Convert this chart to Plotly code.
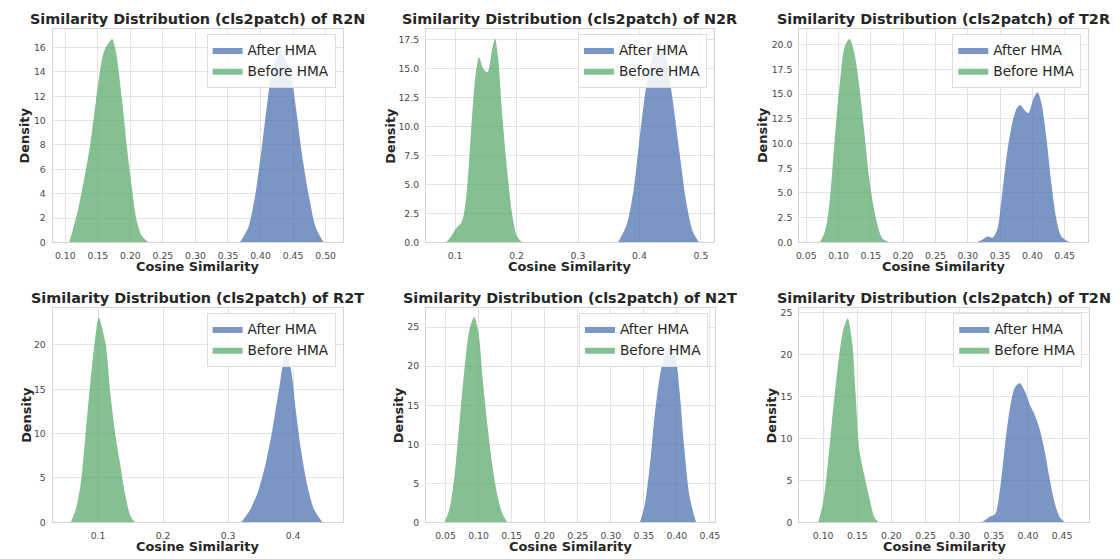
import plotly.graph_objects as go

W, H = 1120, 559

# ---------------- data ----------------
pair_names = ["R2N", "N2R", "T2R", "R2T", "N2T", "T2N"]

r2n_after_x = [0.368, 0.381, 0.391, 0.401, 0.411, 0.419, 0.431, 0.444, 0.454, 0.464, 0.475, 0.485, 0.497]
r2n_after_y = [0.0, 1.2, 3.6, 7.4, 11.7, 14.4, 15.5, 14.4, 11.2, 7.1, 3.6, 1.2, 0.0]
r2n_before_x = [0.106, 0.111, 0.121, 0.137, 0.147, 0.157, 0.162, 0.167, 0.172, 0.178, 0.187, 0.195, 0.203, 0.210, 0.218, 0.228]
r2n_before_y = [0.0, 0.9, 3.0, 7.6, 11.6, 15.2, 16.0, 16.4, 16.7, 15.6, 11.8, 7.7, 4.2, 1.7, 0.5, 0.0]

n2r_after_x = [0.365, 0.379, 0.390, 0.400, 0.411, 0.422, 0.432, 0.443, 0.454, 0.465, 0.476, 0.487, 0.497]
n2r_after_y = [0.0, 1.5, 4.4, 8.9, 13.5, 16.3, 17.3, 16.0, 12.3, 7.8, 3.5, 0.9, 0.0]
n2r_before_x = [0.0855, 0.0935, 0.1016, 0.111, 0.118, 0.126, 0.133, 0.139, 0.146, 0.153, 0.160, 0.165, 0.170, 0.177, 0.185, 0.193, 0.201, 0.209]
n2r_before_y = [0.0, 0.5, 1.2, 1.8, 3.8, 9.5, 14.3, 16.0, 15.0, 14.7, 16.6, 17.6, 16.0, 10.9, 6.1, 2.4, 0.5, 0.0]

t2r_after_x = [0.313, 0.323, 0.3306, 0.339, 0.346, 0.353, 0.361, 0.369, 0.376, 0.381, 0.389, 0.394, 0.402, 0.408, 0.414, 0.422, 0.4297, 0.437, 0.445, 0.458]
t2r_after_y = [0.0, 0.3, 0.6, 0.5, 1.4, 4.8, 9.1, 12.1, 13.6, 13.9, 13.3, 13.1, 14.6, 15.2, 14.1, 10.4, 5.8, 2.4, 0.6, 0.0]
t2r_before_x = [0.071, 0.079, 0.0866, 0.094, 0.102, 0.1095, 0.117, 0.1247, 0.132, 0.140, 0.1476, 0.158, 0.168, 0.181]
t2r_before_y = [0.0, 1.1, 4.4, 10.4, 16.1, 19.8, 20.6, 19.1, 15.8, 11.1, 6.4, 2.4, 0.4, 0.0]

r2t_after_x = [0.320, 0.333, 0.3456, 0.358, 0.368, 0.379, 0.389, 0.397, 0.404, 0.412, 0.422, 0.432, 0.445]
r2t_after_y = [0.0, 1.3, 3.4, 6.7, 10.4, 15.3, 19.2, 17.1, 12.7, 8.2, 4.1, 1.5, 0.0]
r2t_before_x = [0.058, 0.066, 0.0736, 0.081, 0.089, 0.0964, 0.101, 0.1117, 0.119, 0.127, 0.1346, 0.142, 0.150, 0.157]
r2t_before_y = [0.0, 1.5, 4.5, 10.1, 16.4, 21.2, 23.1, 20.1, 14.5, 9.7, 6.3, 3.0, 0.7, 0.0]

n2t_after_x = [0.344, 0.351, 0.359, 0.3663, 0.374, 0.381, 0.390, 0.397, 0.404, 0.411, 0.419, 0.429]
n2t_after_y = [0.0, 2.1, 7.2, 13.6, 18.6, 21.2, 22.5, 21.6, 16.9, 9.7, 3.4, 0.0]
n2t_before_x = [0.0485, 0.056, 0.0635, 0.071, 0.0785, 0.086, 0.0935, 0.100, 0.106, 0.1136, 0.121, 0.1286, 0.136, 0.1436]
n2t_before_y = [0.0, 1.7, 5.9, 12.7, 19.5, 24.6, 26.3, 24.2, 18.6, 12.3, 7.2, 3.4, 1.1, 0.0]

t2n_after_x = [0.3327, 0.3448, 0.352, 0.359, 0.3666, 0.374, 0.381, 0.388, 0.3957, 0.403, 0.410, 0.4175, 0.425, 0.432, 0.439, 0.4466, 0.454]
t2n_after_y = [0.0, 0.7, 1.0, 3.9, 9.4, 13.8, 16.1, 16.6, 15.6, 14.0, 12.8, 11.0, 8.3, 5.1, 2.4, 0.6, 0.0]
t2n_before_x = [0.0927, 0.100, 0.107, 0.1145, 0.122, 0.129, 0.136, 0.1427, 0.1475, 0.153, 0.1606, 0.168, 0.175, 0.181]
t2n_before_y = [0.0, 2.4, 7.1, 13.4, 18.9, 22.8, 24.3, 21.3, 15.4, 8.7, 5.5, 2.8, 0.6, 0.0]

series_after = [(r2n_after_x, r2n_after_y), (n2r_after_x, n2r_after_y), (t2r_after_x, t2r_after_y),
                (r2t_after_x, r2t_after_y), (n2t_after_x, n2t_after_y), (t2n_after_x, t2n_after_y)]
series_before = [(r2n_before_x, r2n_before_y), (n2r_before_x, n2r_before_y), (t2r_before_x, t2r_before_y),
                 (r2t_before_x, r2t_before_y), (n2t_before_x, n2t_before_y), (t2n_before_x, t2n_before_y)]

x_ranges = [[0.0806, 0.526], [0.0527, 0.521], [0.0392, 0.4864], [0.0302, 0.476], [0.0204, 0.4575], [0.065, 0.4897]]
y_ranges = [[0, 17.55], [0, 18.47], [0, 21.63], [0, 24.2], [0, 27.5], [0, 25.6]]
x_dticks = [0.05, 0.1, 0.05, 0.1, 0.05, 0.05]
x_formats = [".2f", ".1f", ".2f", ".1f", ".2f", ".2f"]
y_dticks = [2, 2.5, 2.5, 5, 5, 5]
y_formats = ["d", ".1f", ".1f", "d", "d", "d"]

# ---------------- layout geometry (pixels) ----------------
boxes = [  # left, right, top, bottom
    (50, 342, 28, 244), (426, 716, 28, 244), (802, 1093, 28, 244),
    (50, 342, 310, 527), (426, 717, 310, 527), (802, 1094, 310, 527),
]
ytitle_off = [28, 36, 37, 27, 28, 28]
xtitle_off = [24.5, 24.5, 24.5, 24, 24, 24]

BLUE = "rgba(76,114,176,0.74)"
GREEN = "rgba(85,168,104,0.72)"
FONT = "DejaVu Sans"

fig = go.Figure()
annotations = []
layout = {}
for i, name in enumerate(pair_names):
    n = i + 1
    sfx = "" if n == 1 else str(n)
    xa, ya = "x" + sfx, "y" + sfx
    lg = "legend" + sfx
    l, r, t, b = boxes[i]
    ax, ay = series_after[i]
    bx, by = series_before[i]
    fig.add_trace(go.Scatter(x=ax, y=ay, xaxis=xa, yaxis=ya, mode="lines", fill="tozeroy",
                             fillcolor=BLUE, line=dict(width=0, shape="spline", smoothing=0.8),
                             name="After HMA", legend=lg, hoverinfo="skip"))
    fig.add_trace(go.Scatter(x=bx, y=by, xaxis=xa, yaxis=ya, mode="lines", fill="tozeroy",
                             fillcolor=GREEN, line=dict(width=0, shape="spline", smoothing=0.8),
                             name="Before HMA", legend=lg, hoverinfo="skip"))
    common = dict(showgrid=True, gridcolor="#e3e3e3", gridwidth=1, zeroline=False,
                  showline=True, linecolor="#d4d4d4", linewidth=1, mirror=True,
                  ticks="", tickfont=dict(family=FONT, size=9.3, color="#4a4a4a"),
                  ticklabelstandoff=4, fixedrange=True)
    layout["xaxis" + sfx] = dict(common, domain=[l / W, r / W], anchor=ya, range=x_ranges[i],
                                 tick0=0, dtick=x_dticks[i], tickformat=x_formats[i])
    layout["yaxis" + sfx] = dict(common, domain=[1 - b / H, 1 - t / H], anchor=xa, range=y_ranges[i],
                                 tick0=0, dtick=y_dticks[i], tickformat=y_formats[i])
    layout[lg] = dict(x=(r - 7) / W, y=1 - (t + 5) / H, xanchor="right", yanchor="top",
                      xref="paper", yref="paper", bgcolor="rgba(255,255,255,0.85)",
                      bordercolor="#dddddd", borderwidth=1,
                      font=dict(family=FONT, size=13.7, color="#262626"),
                      tracegroupgap=0, itemsizing="constant")
    cx = (l + r) / 2
    annotations.append(dict(text="Similarity Distribution (cls2patch) of " + name, x=cx / W, y=1 - (t - 10) / H,
                            xref="paper", yref="paper", showarrow=False, xanchor="center", yanchor="middle",
                            font=dict(family=FONT, size=14.4, color="#262626", weight="bold")))
    annotations.append(dict(text="Cosine Similarity", x=cx / W, y=1 - (b + xtitle_off[i]) / H,
                            xref="paper", yref="paper", showarrow=False, xanchor="center", yanchor="middle",
                            font=dict(family=FONT, size=12.9, color="#262626", weight="bold")))
    annotations.append(dict(text="Density", x=(l - ytitle_off[i]) / W, y=1 - ((t + b) / 2) / H,
                            xref="paper", yref="paper", showarrow=False, xanchor="center", yanchor="middle",
                            textangle=-90,
                            font=dict(family=FONT, size=12.9, color="#262626", weight="bold")))

fig.update_layout(**layout)
fig.update_layout(width=W, height=H, margin=dict(l=0, r=0, t=0, b=0),
                  paper_bgcolor="white", plot_bgcolor="white",
                  annotations=annotations, showlegend=True)

fig.write_html("out.html")
